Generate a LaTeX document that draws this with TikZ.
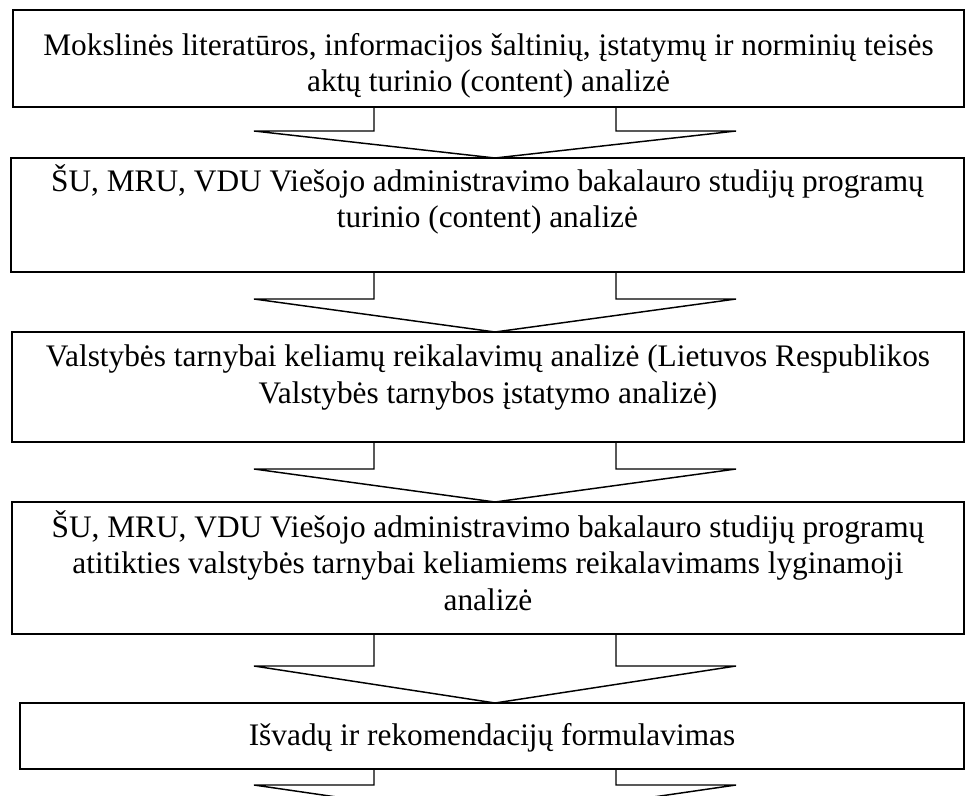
\documentclass[tikz,border=0pt]{standalone}
\usepackage{fontspec}
\setmainfont{Liberation Serif}
\usetikzlibrary{calc}
\tikzset{
  stagebox/.style={draw, line width=1.6pt, fill=white, inner sep=0pt},
  stagetext/.style={anchor=north, align=center, inner sep=0pt,
    font=\fontsize{23.5}{27.5}\selectfont},
  downarrow/.style={draw, line width=1.1pt, fill=white, line join=miter},
}
% draws a block arrow pointing down, centred at x=#1, from the bottom #2 of one box,
% head starting at #3 and tip on the top #4 of the next box
\newcommand{\blockarrow}[4]{%
  \draw[downarrow] (#1-121,#2-4) -- (#1-121,#3) -- (#1-241,#3) -- (#1,#4)
    -- (#1+241,#3) -- (#1+121,#3) -- (#1+121,#2-4) -- cycle;}
\begin{document}
\begin{tikzpicture}[x=0.75pt, y=-0.75pt]
  \useasboundingbox (0,0) rectangle (965,796);
  \clip (0,0) rectangle (965,796);

  % arrows between stages (drawn first, boxes cover the shaft tops)
  \blockarrow{495}{107}{131}{158}
  \blockarrow{495}{272}{299}{332}
  \blockarrow{495}{442}{469}{502}
  \blockarrow{495}{634}{666}{703}
  \blockarrow{495}{769}{785}{820}

  % stage boxes
  \node[stagebox, minimum width=951*0.75pt, minimum height=97*0.75pt] (b1) at (488.5,58.5) {};
  \node[stagebox, minimum width=953*0.75pt, minimum height=114*0.75pt] (b2) at (487.5,215) {};
  \node[stagebox, minimum width=952*0.75pt, minimum height=110*0.75pt] (b3) at (488,387) {};
  \node[stagebox, minimum width=952*0.75pt, minimum height=132*0.75pt] (b4) at (488,568) {};
  \node[stagebox, minimum width=944*0.75pt, minimum height=66*0.75pt] (b5) at (492,736) {};

  % stage texts
  \node[stagetext] (t1) at ($(b1.north)+(0,24)$)
    {Mokslinės literatūros, informacijos šaltinių, įstatymų ir norminių teisės\\aktų turinio (content) analizė};
  \node[stagetext] (t2) at ($(b2.north)+(0,7)$)
    {ŠU, MRU, VDU Viešojo administravimo bakalauro studijų programų\\turinio (content) analizė};
  \node[stagetext] (t3) at ($(b3.north)+(0,14)$)
    {Valstybės tarnybai keliamų reikalavimų analizė (Lietuvos Respublikos\\Valstybės tarnybos įstatymo analizė)};
  \node[stagetext] (t4) at ($(b4.north)+(0,9)$)
    {ŠU, MRU, VDU Viešojo administravimo bakalauro studijų programų\\atitikties valstybės tarnybai keliamiems reikalavimams lyginamoji\\analizė};
  \node[stagetext] (t5) at ($(b5.north)+(0,21)$)
    {Išvadų ir rekomendacijų formulavimas};
\end{tikzpicture}
\end{document}
